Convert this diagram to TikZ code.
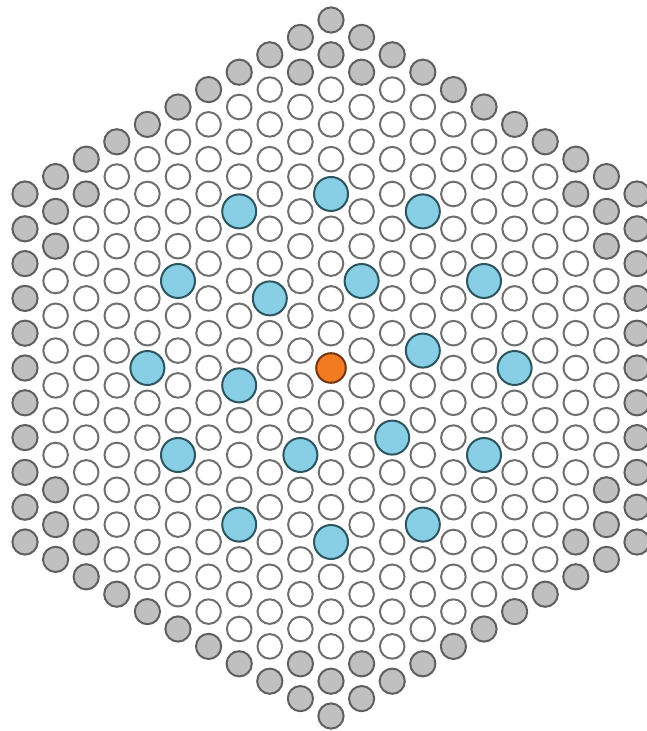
\documentclass[tikz,border=0pt]{standalone}
\definecolor{rimgrey}{RGB}{95,95,95}
\definecolor{fillgrey}{RGB}{192,192,192}
\definecolor{fillblue}{RGB}{136,206,228}
\definecolor{rimblue}{RGB}{45,85,95}
\definecolor{fillorange}{RGB}{242,122,32}
\definecolor{rimorange}{RGB}{115,55,15}
\begin{document}
\begin{tikzpicture}[
    x=15.3pt, y=8.7pt,
    rodwhite/.style={circle, draw=rimgrey!90, fill=white, line width=1pt, minimum size=12.3pt, inner sep=0pt},
    rodgrey/.style={rodwhite, draw=rimgrey, fill=fillgrey, minimum size=12.6pt},
    rodblue/.style={circle, draw=rimblue, fill=fillblue, line width=1pt, minimum size=17pt, inner sep=0pt},
    rodcentre/.style={circle, draw=rimorange, fill=fillorange, line width=1pt, minimum size=14.8pt, inner sep=0pt},
]
\useasboundingbox (-165.5pt,-181.5pt) rectangle (157.5pt,184pt);

% blue positions (column / half-row)
\foreach \c/\h in {-3/9,0/10,3/9,-5/5,-2/4,1/5,5/5,-6/0,-3/-1,3/1,6/0,-5/-5,-1/-5,2/-4,5/-5,-3/-9,0/-10,3/-9}
    {\expandafter\xdef\csname isblue\c:\h\endcsname{1}}
\expandafter\xdef\csname isblue0:0\endcsname{1}

% lattice, outer ring grey
\foreach \c in {-10,...,10} {
    \pgfmathtruncatemacro\n{20-abs(\c)}
    \pgfmathtruncatemacro\hs{-\n}
    \pgfmathtruncatemacro\hn{-\n+2}
    \foreach \h in {\hs,\hn,...,\n} {
        \pgfmathtruncatemacro\d{max(abs(\c),(abs(\c)+abs(\h))/2)}
        \pgfmathtruncatemacro\g{(\d==10)||((\d==9)&&((abs(\c)<=1)||((abs(\c)>=8)&&(abs(\h)>=7))))}
        \ifcsname isblue\c:\h\endcsname\else
            \ifnum\g=1
                \node[rodgrey] (r\c_\h) at (\c,\h) {};
            \else
                \node[rodwhite] (r\c_\h) at (\c,\h) {};
            \fi
        \fi
    }
}

% blue rods
\foreach \c/\h in {-3/9,0/10,3/9,-5/5,-2/4,1/5,5/5,-6/0,-3/-1,3/1,6/0,-5/-5,-1/-5,2/-4,5/-5,-3/-9,0/-10,3/-9}
    \node[rodblue] (b\c_\h) at (\c,\h) {};

% centre
\node[rodcentre] (centre) at (0,0) {};
\end{tikzpicture}
\end{document}
